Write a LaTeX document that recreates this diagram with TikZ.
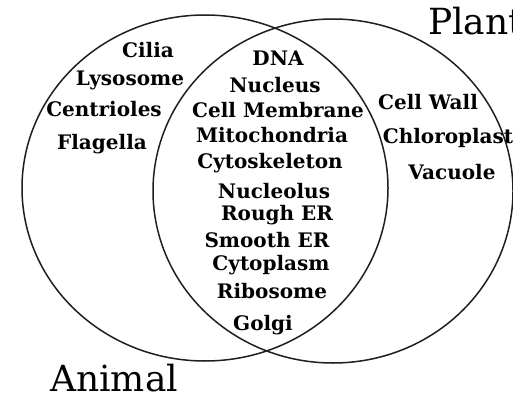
\documentclass[tikz,border=0pt]{standalone}
\usepackage{fontspec}
\setmainfont{DejaVu Serif}
\usetikzlibrary{positioning}

\tikzset{
  part/.style={font=\fontsize{20}{20}\selectfont\bfseries, inner sep=0pt, anchor=base},
  kingdom/.style={font=\fontsize{36}{36}\selectfont, inner sep=0pt, anchor=base west},
  ring/.style={line width=1.5pt, black!88}
}

\begin{document}
\begin{tikzpicture}[x=1pt,y=-1pt]
\useasboundingbox (0,0) rectangle (513,395);
\fill[white] (0,0) rectangle (513,395);
% the two sets
\draw[ring] (205,188) ellipse[x radius=183pt, y radius=173pt];
\draw[ring] (333,191) ellipse[x radius=180pt, y radius=172pt];
% animal only
\node[part] (cilia) at (148,58) {Cilia};
\node[part] (lysosome) at (130,86) {Lysosome};
\node[part] (centrioles) at (104,117) {Centrioles};
\node[part] (flagella) at (102,150) {Flagella};
% both
\node[part] (dna) at (278,66) {DNA};
\node[part] (nucleus) at (275,93) {Nucleus};
\node[part] (membrane) at (278,118) {Cell Membrane};
\node[part] (mito) at (272,143) {Mitochondria};
\node[part] (cytoskel) at (270,169) {Cytoskeleton};
\node[part] (nucleolus) at (274,199) {Nucleolus};
\node[part] (rougher) at (277,220) {Rough ER};
\node[part] (smoother) at (267,247) {Smooth ER};
\node[part] (cytoplasm) at (271,270) {Cytoplasm};
\node[part] (ribosome) at (272,298) {Ribosome};
\node[part] (golgi) at (263,330) {Golgi};
% plant only
\node[part] (wall) at (428,110) {Cell Wall};
\node[part] (chloro) at (448,144) {Chloroplast};
\node[part] (vacuole) at (452,180) {Vacuole};
% set names
\node[kingdom] (plant) at (428,35) {Plant};
\node[kingdom] (animal) at (50,391) {Animal};
\end{tikzpicture}
\end{document}
